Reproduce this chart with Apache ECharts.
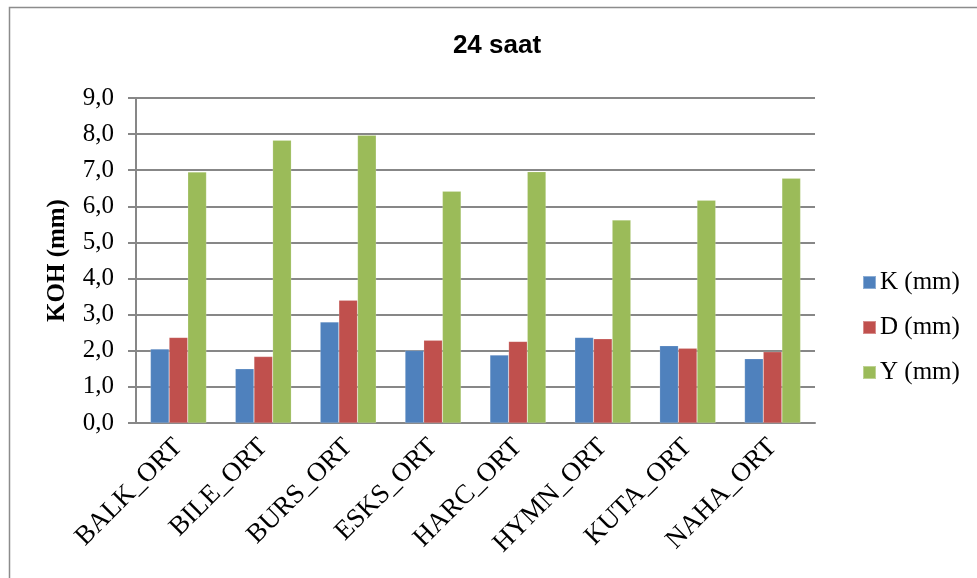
<!DOCTYPE html>
<html>
<head>
<meta charset="utf-8">
<script src="https://cdn.jsdelivr.net/npm/echarts@6/dist/echarts.min.js"></script>
<style>
  html, body { margin: 0; padding: 0; background: #fff; }
  #chart { width: 977px; height: 578px; }
</style>
</head>
<body>
<div id="chart"></div>
<script>
// Station averages after 24 hours
const categories = ['BALK_ORT', 'BILE_ORT', 'BURS_ORT', 'ESKS_ORT', 'HARC_ORT', 'HYMN_ORT', 'KUTA_ORT', 'NAHA_ORT'];
const seriesNames = ['K (mm)', 'D (mm)', 'Y (mm)'];
const kValues = [2.05, 1.50, 2.80, 2.01, 1.88, 2.37, 2.14, 1.78];
const dValues = [2.37, 1.84, 3.40, 2.29, 2.26, 2.33, 2.07, 1.97];
const yValues = [6.95, 7.83, 7.97, 6.42, 6.96, 5.62, 6.17, 6.78];
const yTickLabels = ['0,0', '1,0', '2,0', '3,0', '4,0', '5,0', '6,0', '7,0', '8,0', '9,0'];

const serif = '"Liberation Serif", "Times New Roman", serif';
const gridGray = '#878787';
const colors = ['#4F81BD', '#C0504D', '#9BBB59'];

const chart = echarts.init(document.getElementById('chart'), null, { renderer: 'canvas' });

const values = [kValues, dValues, yValues];

chart.setOption({
  animation: false,
  backgroundColor: '#ffffff',
  title: {
    text: '24 saat',
    left: 492,
    top: 28,
    textAlign: 'center',
    textStyle: {
      fontFamily: '"Liberation Sans", Arial, sans-serif',
      fontWeight: 'bold',
      fontSize: 26,
      color: '#000'
    }
  },
  graphic: [{
    type: 'rect',
    left: 7,
    top: 5,
    shape: { width: 990, height: 600 },
    style: { fill: 'none', stroke: '#8c8c8c', lineWidth: 1.5 },
    silent: true,
    z: -1
  }],
  legend: {
    orient: 'vertical',
    left: 857,
    top: 265,
    itemWidth: 13,
    itemHeight: 13,
    itemGap: 20,
    icon: 'rect',
    data: seriesNames,
    textStyle: { fontFamily: serif, fontSize: 25, color: '#000', padding: [0, 0, 0, -1] }
  },
  grid: { left: 136, right: 162, top: 98, bottom: 155, containLabel: false },
  xAxis: {
    type: 'category',
    data: categories,
    axisLine: { lineStyle: { color: gridGray, width: 2 } },
    axisTick: { show: false },
    axisLabel: {
      rotate: 45,
      margin: 20,
      interval: 0,
      fontFamily: serif,
      fontSize: 27,
      color: '#000'
    }
  },
  yAxis: {
    type: 'value',
    min: 0,
    max: 9,
    interval: 1,
    name: 'KOH (mm)',
    nameLocation: 'middle',
    nameGap: 66,
    nameRotate: 90,
    nameTextStyle: { fontFamily: serif, fontSize: 25, fontWeight: 'bold', color: '#000' },
    axisLine: { show: true, lineStyle: { color: gridGray, width: 2 } },
    axisTick: { show: true, length: 8, lineStyle: { color: gridGray, width: 2 } },
    splitLine: { show: true, lineStyle: { color: gridGray, width: 2 } },
    axisLabel: {
      margin: 22,
      fontFamily: serif,
      fontSize: 25,
      color: '#000',
      formatter: (v) => yTickLabels[Math.round(v)]
    }
  },
  series: seriesNames.map((name, i) => ({
    name: name,
    type: 'bar',
    data: values[i],
    barGap: '0%',
    barCategoryGap: '34%',
    itemStyle: { color: colors[i], borderColor: 'rgba(255,255,255,0.35)', borderWidth: 0.5 }
  }))
});
</script>
</body>
</html>
